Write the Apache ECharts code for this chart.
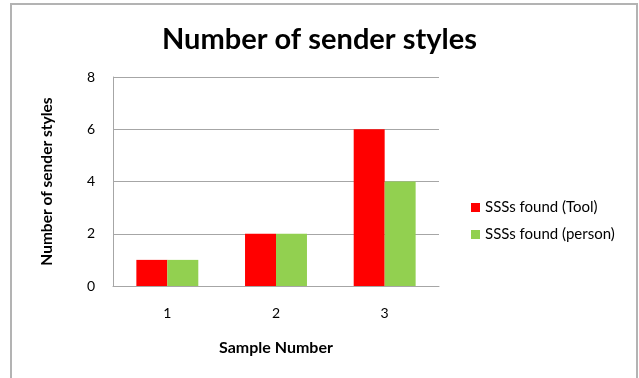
<!DOCTYPE html>
<html>
	<head>
		<meta http-equiv="Content-Type" content="text/html;charset=utf-8" />
		<title>Number of sender styles</title>
		<script src="https://cdn.jsdelivr.net/npm/echarts/dist/echarts.min.js"></script>
		<style>
			html, body { margin: 0; padding: 0; background: #fff; }
			#container { width: 639px; height: 378px; }
		</style>
	</head>
	<body>
		<div id="container"></div>
		<script type="text/javascript">
			// chart data
			var categories = ['1', '2', '3'];
			var seriesNames = ['SSSs found (Tool)', 'SSSs found (person)'];
			var toolValues = [1, 2, 6];
			var personValues = [1, 2, 4];
			var yTicks = [0, 2, 4, 6, 8];

			var font = 'Lato, "Open Sans", sans-serif';
			var myChart = echarts.init(document.getElementById('container'));

			var option = {
				backgroundColor: '#fff',
				textStyle: { fontFamily: font },
				graphic: [{
					type: 'rect',
					shape: { x: 11, y: 4, width: 626, height: 400 },
					style: { fill: 'none', stroke: '#b3b3b3', lineWidth: 2 },
					silent: true
				}],
				title: {
					text: 'Number of sender styles',
					left: 'center',
					top: 20,
					textStyle: { fontFamily: font, fontSize: 29, fontWeight: 'bold', color: '#000' }
				},
				legend: {
					data: seriesNames,
					orient: 'vertical',
					left: 466,
					top: 195,
					itemWidth: 9,
					itemHeight: 9,
					itemGap: 12,
					icon: 'rect',
					textStyle: { fontFamily: font, fontSize: 15, color: '#000' }
				},
				grid: { left: 113, right: 200, top: 77, bottom: 92, containLabel: false },
				xAxis: {
					type: 'category',
					data: categories,
					name: 'Sample Number',
					nameLocation: 'middle',
					nameGap: 54,
					nameTextStyle: { fontFamily: font, fontSize: 16, fontWeight: 'bold', color: '#000' },
					axisLine: { lineStyle: { color: '#a6a6a6', width: 1 } },
					axisTick: { show: false },
					axisLabel: { margin: 20, fontSize: 14, color: '#000', fontFamily: font }
				},
				yAxis: {
					type: 'value',
					min: yTicks[0],
					max: yTicks[yTicks.length - 1],
					interval: yTicks[1] - yTicks[0],
					name: 'Number of sender styles',
					nameLocation: 'middle',
					nameGap: 58,
					nameTextStyle: { fontFamily: font, fontSize: 15.5, fontWeight: 'bold', color: '#000' },
					axisLine: { show: true, lineStyle: { color: '#a6a6a6', width: 1 } },
					axisTick: { show: false },
					splitLine: { lineStyle: { color: '#a6a6a6', width: 1 } },
					axisLabel: { margin: 18, fontSize: 14, color: '#000', fontFamily: font }
				},
				series: [{
						name: seriesNames[0],
						type: 'bar',
						data: toolValues,
						barGap: '0%',
						barCategoryGap: '43%',
						itemStyle: { color: '#ff0000' }
					}, {
						name: seriesNames[1],
						type: 'bar',
						data: personValues,
						barGap: '0%',
						barCategoryGap: '43%',
						itemStyle: { color: '#92d050' }
					}
				]
			};

			myChart.setOption(option);
		</script>
	</body>
</html>
